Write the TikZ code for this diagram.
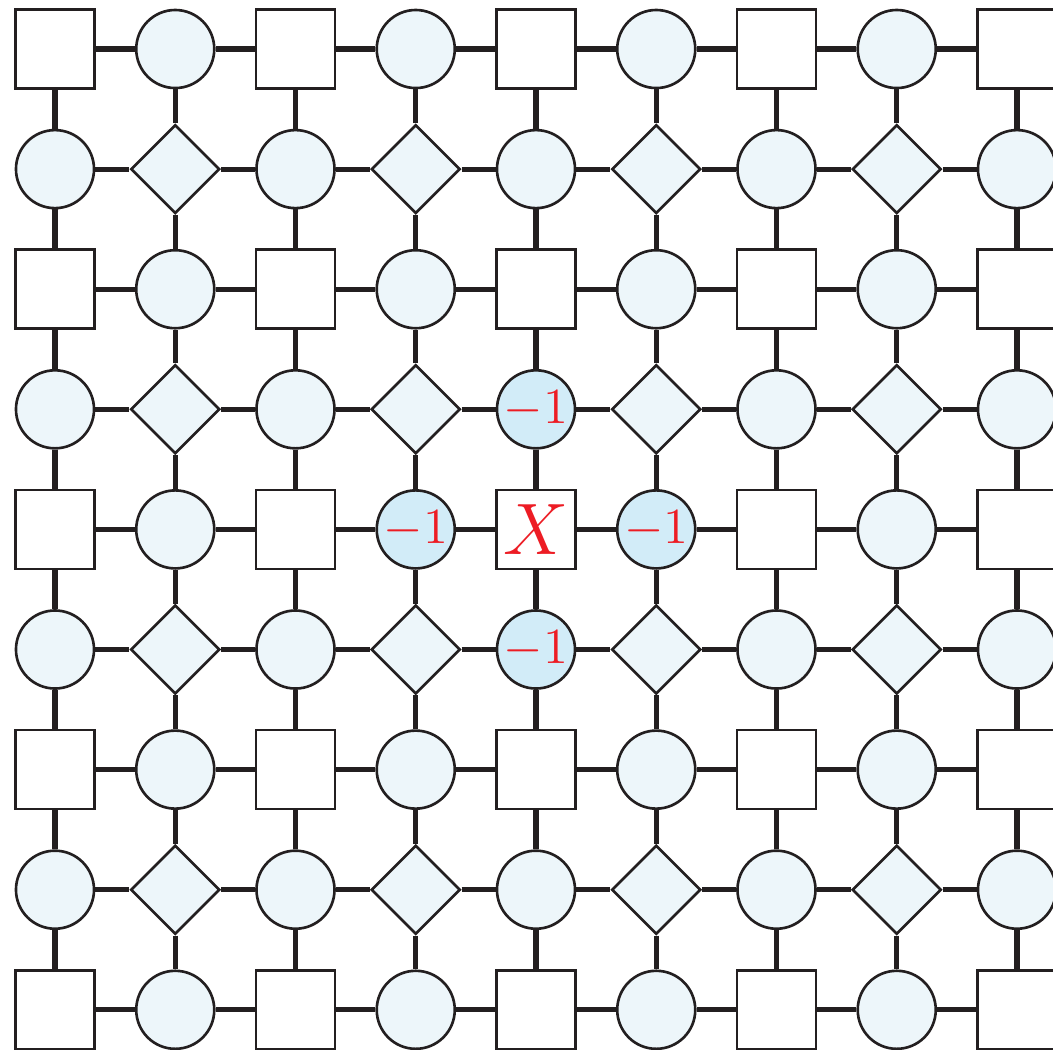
\documentclass[tikz,border=0pt]{standalone}
\usepackage{amsmath,amssymb}
\usepackage{xcolor}
\usepackage{tikz}
\usetikzlibrary{positioning,shapes.geometric}

\definecolor{inkline}{HTML}{231F20}
\definecolor{sitefill}{HTML}{EDF6FA}
\definecolor{hotfill}{HTML}{D2ECF8}
\definecolor{hotred}{HTML}{ED1C24}

\tikzset{
  plaq/.style={rectangle, draw=inkline, line width=0.75pt, fill=white, minimum size=0.79cm, inner sep=0pt},
  site/.style={circle, draw=inkline, line width=0.75pt, fill=sitefill, minimum size=0.78cm, inner sep=0pt},
  star/.style={diamond, aspect=1, draw=inkline, line width=0.75pt, fill=sitefill, minimum size=0.89cm, inner sep=0pt},
  hot/.style={site, fill=hotfill, text=hotred, font=\fontsize{14}{14}\selectfont},
  bond/.style={draw=inkline, line width=1.45pt}
}

\begin{document}
\begin{tikzpicture}[x=0.01cm, y=-0.01cm]
\useasboundingbox (0,0) rectangle (1053,1050);
% lattice of squares, circles and diamonds
\foreach \i in {0,...,8}
  \foreach \j in {0,...,8} {
    \pgfmathtruncatemacro\kk{mod(\i+\j,2)+2*mod(\i,2)}
    \pgfmathtruncatemacro\cc{(abs(\i-4)+abs(\j-4))<=1}
    \ifnum\cc=0
      \ifcase\kk
        \node[plaq] (n-\i-\j) at (55+120.25*\i, 49+120.1*\j) {};
      \or
        \node[site] (n-\i-\j) at (55+120.25*\i, 49+120.1*\j) {};
      \or
        \node[star] (n-\i-\j) at (55+120.25*\i, 49+120.1*\j) {};
      \or
        \node[site] (n-\i-\j) at (55+120.25*\i, 49+120.1*\j) {};
      \fi
    \fi
  }
% the flipped plaquette and its four neighbours
\node[plaq, text=hotred, font=\fontsize{21}{21}\selectfont] (n-4-4) at (55+120.25*4, 49+120.1*4) {$X$};
\node[hot] (n-4-3) at (55+120.25*4, 49+120.1*3) {$-1$};
\node[hot] (n-3-4) at (55+120.25*3, 49+120.1*4) {$-1$};
\node[hot] (n-5-4) at (55+120.25*5, 49+120.1*4) {$-1$};
\node[hot] (n-4-5) at (55+120.25*4, 49+120.1*5) {$-1$};
% bonds
\foreach \i [evaluate=\i as \ni using int(\i+1)] in {0,...,7}
  \foreach \j in {0,...,8} {
    \draw[bond] (n-\i-\j) -- (n-\ni-\j);
    \draw[bond] (n-\j-\i) -- (n-\j-\ni);
  }
\end{tikzpicture}
\end{document}
